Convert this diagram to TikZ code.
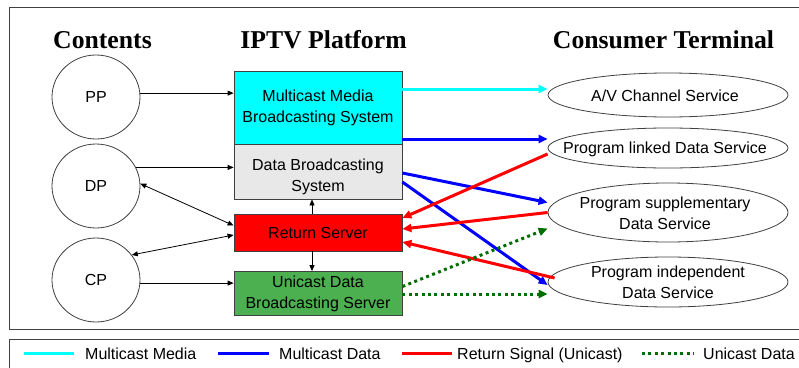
\documentclass[tikz,border=0pt]{standalone}
\usepackage{fontspec}
\setmainfont{Liberation Sans}
\newfontfamily\titlefont{Liberation Serif}
\usetikzlibrary{arrows.meta,shapes.geometric}
\definecolor{boxcyan}{RGB}{0,255,255}
\definecolor{boxgray}{RGB}{232,232,232}
\definecolor{boxred}{RGB}{255,0,0}
\definecolor{boxgreen}{RGB}{76,176,80}
\definecolor{edge}{RGB}{64,64,64}
\definecolor{lcyan}{RGB}{0,255,255}
\definecolor{lblue}{RGB}{0,0,255}
\definecolor{lred}{RGB}{255,0,0}
\definecolor{lgreen}{RGB}{0,110,0}
\begin{document}
\begin{tikzpicture}[x=1pt,y=-1pt,
  every node/.style={font=\fontsize{16}{21}\selectfont, inner sep=0pt},
  title/.style={font=\titlefont\bfseries\fontsize{25.7}{30}\selectfont, anchor=base},
  source/.style={draw=edge, line width=0.8pt, ellipse, minimum width=88pt, minimum height=84pt},
  platbox/.style={draw=edge, line width=0.8pt, rectangle, minimum width=168pt},
  service/.style={draw=edge, line width=0.8pt, ellipse, minimum width=240pt},
  blk/.style={line width=0.8pt, -{Triangle[length=6pt,width=5pt]}},
  blkboth/.style={line width=0.8pt, {Triangle[length=6pt,width=5pt]}-{Triangle[length=6pt,width=5pt]}},
  colarrow/.style={line width=3pt, -{Triangle[length=9pt,width=8pt]}},
  greendot/.style={line width=3pt, lgreen, dash pattern=on 3pt off 3.4pt, -{Triangle[length=9pt,width=8pt]}},
  frame/.style={draw=edge, line width=0.9pt},
  legtext/.style={anchor=base west}
]
\useasboundingbox (0,0) rectangle (799,367);
\fill[white] (0,0) rectangle (799,367);
% frames
\draw[frame] (9,7) rectangle (805,329);
\draw[frame] (9,339) rectangle (805,380);

% titles
\node[title] (tC) at (102.5,48) {Contents};
\node[title] (tI) at (323.5,48) {IPTV Platform};
\node[title] (tT) at (663.5,48) {Consumer Terminal};

% sources
\node[source] (PP) at (96,97) {PP};
\node[source] (DP) at (96,186) {DP};
\node[source] (CP) at (96,280) {CP};

% platform boxes
\node[platbox, fill=boxcyan, minimum height=73pt, align=center] (MM) at (318,107.5) {Multicast Media\\Broadcasting System};
\node[platbox, fill=boxgray, minimum height=55pt] (DB) at (318,171.5) {};
\node[align=center] (DBt) at (318,177) {Data Broadcasting\\System};
\node[platbox, fill=boxred, minimum height=37pt] (RS) at (318,232.5) {Return Server};
\node[platbox, fill=boxgreen, minimum height=44pt, align=center] (UD) at (318,293.5) {Unicast Data\\Broadcasting Server};

% services
\node[service, minimum height=44pt] (AV) at (668,95) {};
\node (AVt) at (665,96) {A/V Channel Service};
\node[service, minimum height=40pt] (PL) at (668,148) {};
\node (PLt) at (665,149) {Program linked Data Service};
\node[service, minimum height=59pt] (PS) at (668,212.5) {};
\node[align=center] (PSt) at (665,213.5) {Program supplementary\\Data Service};
\node[service, minimum height=50pt] (PI) at (668,282) {};
\node[align=center] (PIt) at (668,282.5) {Program independent\\Data Service};

% black connectors
\draw[blk] (PP.5) -- (PP.5 -| MM.west);
\draw[blk] (DP.25) -- (DP.25 -| DB.west);
\draw[blkboth] (DP.3) -- ([yshift=7pt]RS.west);
\draw[blkboth] (CP.35) -- ([yshift=-2.5pt]RS.west);
\draw[blk] (CP.-4) -- (CP.-4 -| UD.west);
\draw[blk] ([xshift=-6pt]RS.north) -- ([xshift=-6pt]DB.south);
\draw[blk] ([xshift=-6pt]RS.south) -- ([xshift=-6pt]UD.north);

% multicast media
\coordinate (mmA) at ([yshift=18.5pt]MM.east);
\draw[colarrow, lcyan] (mmA) -- (mmA -| AV.west);
% multicast data
\coordinate (mmB) at ([yshift=-31.5pt]MM.east);
\draw[colarrow, lblue] (mmB) -- (mmB -| PL.west);
\draw[colarrow, lblue] ([yshift=-1.5pt]DB.east) -- ([yshift=10pt]PS.west);
\draw[colarrow, lblue] ([yshift=-10.5pt]DB.east) -- ([yshift=-3pt]PI.west);
% return signal
\draw[colarrow, lred] ([yshift=-6pt]PL.west) -- ([yshift=14.5pt]RS.east);
\draw[colarrow, lred] (PS.west) -- ([yshift=3.5pt]RS.east);
\draw[colarrow, lred] ([xshift=7pt,yshift=4pt]PI.west) -- ([yshift=-9.5pt]RS.east);
% unicast data
\draw[greendot] ([yshift=7pt]UD.east) -- ([yshift=-16pt]PS.west);
\coordinate (udB) at ([yshift=-0.5pt]UD.east);
\draw[greendot] (udB) -- (udB -| PI.west);

% legend
\coordinate (l1a) at (24,353); \coordinate (l1b) at (74,353);
\draw[line width=3pt, lcyan] (l1a) -- (l1b);
\node[legtext] (L1) at (85,359) {Multicast Media};
\coordinate (l2a) at (218,353); \coordinate (l2b) at (269,353);
\draw[line width=3pt, lblue] (l2a) -- (l2b);
\node[legtext] (L2) at (279,359) {Multicast Data};
\coordinate (l3a) at (402,353); \coordinate (l3b) at (452,353);
\draw[line width=3pt, lred] (l3a) -- (l3b);
\node[legtext] (L3) at (457,359) {Return Signal (Unicast)};
\coordinate (l4a) at (642,353); \coordinate (l4b) at (694,353);
\draw[line width=3pt, lgreen, dash pattern=on 3pt off 3.4pt] (l4a) -- (l4b);
\node[legtext] (L4) at (703,359) {Unicast Data};
\end{tikzpicture}
\end{document}
